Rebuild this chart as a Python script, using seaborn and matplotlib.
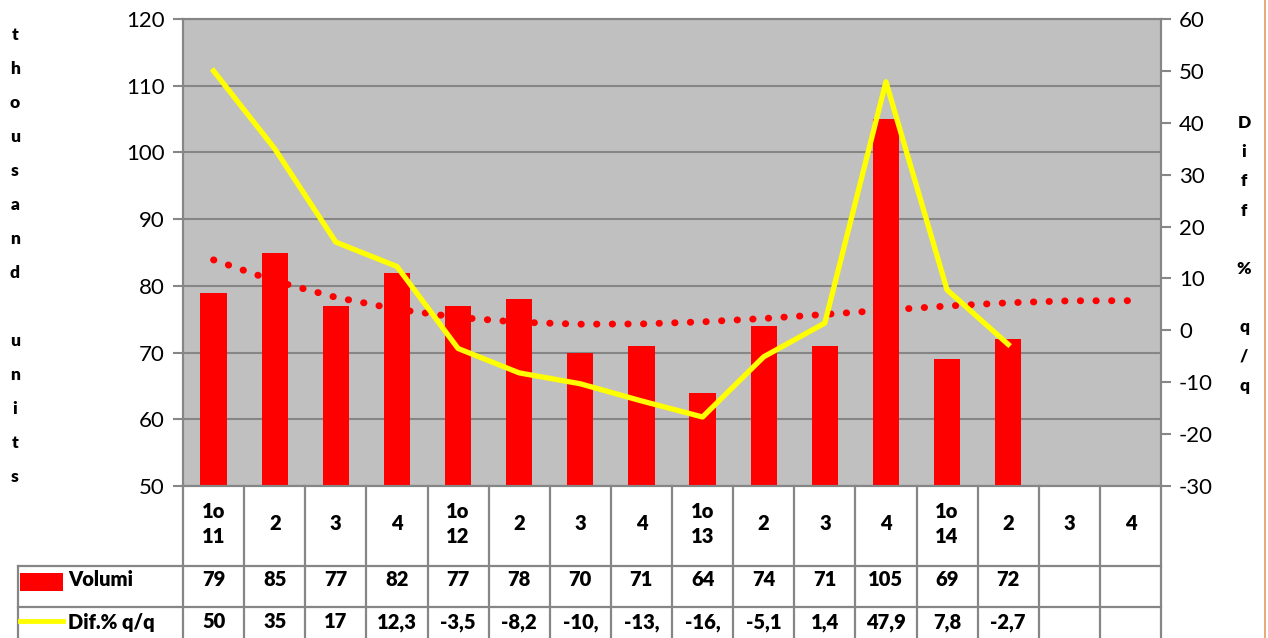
import numpy as np
import pandas as pd
import matplotlib
matplotlib.use("Agg")
import matplotlib.pyplot as plt
import matplotlib.transforms as mtransforms
from matplotlib.patches import Rectangle
from matplotlib.lines import Line2D
import seaborn as sns

# quarter keys (16 columns in the data table, last two empty)
quarters = ["1o 11", "2 11", "3 11", "4 11",
            "1o 12", "2 12", "3 12", "4 12",
            "1o 13", "2 13", "3 13", "4 13",
            "1o 14", "2 14", "3 14", "4 14"]
quarter_labels = ["1o\n11", "2", "3", "4", "1o\n12", "2", "3", "4",
                  "1o\n13", "2", "3", "4", "1o\n14", "2", "3", "4"]

# volumes in thousand units
volumi = [79, 85, 77, 82, 77, 78, 70, 71, 64, 74, 71, 105, 69, 72]
# % change vs. previous quarter
dif_qq = [50, 35, 17, 12.3, -3.5, -8.2, -10.3, -13.6, -16.7, -5.1, 1.4, 47.9, 7.8, -2.7]
# as printed in the table (Excel cuts some of them)
dif_labels = ["50", "35", "17", "12,3", "-3,5", "-8,2", "-10,", "-13,", "-16,",
              "-5,1", "1,4", "47,9", "7,8", "-2,7"]

df = pd.DataFrame({"quarter": quarters[:len(volumi)], "volumi": volumi})

plt.rcParams["font.family"] = ["Lato", "DejaVu Sans"]
plt.rcParams["axes.unicode_minus"] = False

W, H = 1268, 638
fig = plt.figure(figsize=(W / 100, H / 100), dpi=100)
ax = fig.add_axes([183 / W, (H - 486) / H, 978 / W, 467 / H])
ax.set_facecolor("#C0C0C0")

grey = "#868686"
bold = "heavy"

sns.barplot(data=df, x="quarter", y="volumi", order=quarters, color="#FF0000",
            saturation=1, width=0.43, ax=ax, zorder=2)

# polynomial trend line over bars, projected to the full year
xs = np.arange(len(volumi))
coef = np.polyfit(xs, volumi, 3)
xt = np.arange(len(quarters))
ax.plot(xt, np.polyval(coef, xt), color="#FF0000", lw=5,
        linestyle=(0, (0.05, 2.2)), dash_capstyle="round", zorder=3)

ax.set_ylim(50, 120)
ax.set_yticks(range(50, 121, 10))
ax.set_xlim(-0.5, len(quarters) - 0.5)
ax.yaxis.grid(True, color=grey, lw=1.5)
ax.set_axisbelow(True)
ax.set_xlabel("")
ax.set_ylabel("")
ax.set_xticks([])
for s in ax.spines.values():
    s.set_color(grey)
    s.set_linewidth(1.5)
ax.tick_params(axis="y", colors=grey, labelcolor="black", labelsize=16,
               length=7, width=1.5, direction="out", pad=6)

ax2 = ax.twinx()
sns.lineplot(x=xs, y=dif_qq, ax=ax2, color="#FFFF00", lw=3.8, zorder=4)
ax2.set_ylim(-30, 60)
ax2.set_yticks(range(-30, 61, 10))
ax2.set_ylabel("")
for s in ax2.spines.values():
    s.set_color(grey)
    s.set_linewidth(1.5)
ax2.tick_params(axis="y", colors=grey, labelcolor="black", labelsize=16,
                length=7, width=1.5, direction="out", pad=6)

# vertical axis titles, one letter per line
def fy(p):
    return 1 - p / H

for i, ch in enumerate("thousand units"):
    fig.text(15 / W, fy(40 + i * 34), ch, ha="center", va="baseline",
             fontsize=12.5, fontweight=bold)
for i, ch in enumerate("Diff % q/q"):
    fig.text(1244 / W, fy(128 + i * 29.2), ch, ha="center", va="baseline",
             fontsize=12.5, fontweight=bold)

# data table under the chart
tr = mtransforms.blended_transform_factory(ax.transData, fig.transFigure)
lw_t = 1.6
x_left = ax.transData.inverted().transform((18, 0))[0]
x0, x1 = -0.5, len(quarters) - 0.5
for b in np.arange(len(quarters) + 1) - 0.5:
    fig.add_artist(Line2D([b, b], [fy(486), 0], transform=tr, color=grey, lw=lw_t))
fig.add_artist(Line2D([x_left, x_left], [fy(566), 0], transform=tr, color=grey, lw=lw_t))
for p in (566, 607):
    fig.add_artist(Line2D([x_left, x1], [fy(p), fy(p)], transform=tr, color=grey, lw=lw_t))

for i, lab in enumerate(quarter_labels):
    fig.text(i, fy(524), lab, transform=tr, ha="center", va="center",
             fontsize=14.5, fontweight=bold, linespacing=1.35)
for i, v in enumerate(volumi):
    fig.text(i, fy(580), str(v), transform=tr, ha="center", va="center",
             fontsize=14.5, fontweight=bold)
for i, v in enumerate(dif_labels):
    fig.text(i, fy(622), v, transform=tr, ha="center", va="center",
             fontsize=14.5, fontweight=bold)

# legend keys in the table
fig.add_artist(Rectangle((20 / W, fy(591)), 43 / W, 18 / H, transform=fig.transFigure,
                         facecolor="#FF0000", edgecolor="none"))
fig.text(68 / W, fy(580), "Volumi", ha="left", va="center", fontsize=14.5, fontweight=bold)
fig.add_artist(Line2D([20 / W, 63 / W], [fy(621), fy(621)], transform=fig.transFigure,
                      color="#FFFF00", lw=3.5))
fig.text(68 / W, fy(622), "Dif.% q/q", ha="left", va="center", fontsize=14.5, fontweight=bold)

# chart frame edge on the right
fig.add_artist(Line2D([1265 / W, 1265 / W], [0, 1], transform=fig.transFigure,
                      color="#E59A5C", lw=1.2))

fig.savefig("out.png", dpi=100)
